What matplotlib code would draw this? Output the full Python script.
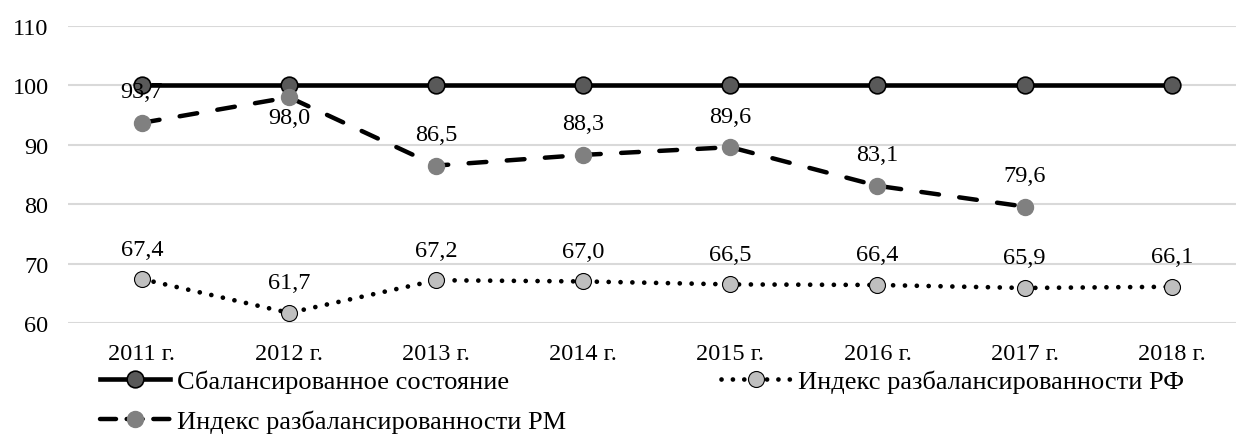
import matplotlib
matplotlib.use("Agg")
import matplotlib.pyplot as plt
from matplotlib.lines import Line2D

years = ["2011 г.", "2012 г.", "2013 г.", "2014 г.", "2015 г.", "2016 г.", "2017 г.", "2018 г."]
balanced = [100, 100, 100, 100, 100, 100, 100, 100]
rm_index = [93.7, 98.0, 86.5, 88.3, 89.6, 83.1, 79.6]
rf_index = [67.4, 61.7, 67.2, 67.0, 66.5, 66.4, 65.9, 66.1]
yticks = [60, 70, 80, 90, 100, 110]

plt.rcParams['font.family'] = ['Liberation Serif', 'DejaVu Serif']

W, H = 1236, 435
fig = plt.figure(figsize=(W / 100, H / 100), dpi=100)
left, right, top, bottom = 68, 1236, 27, 324
ax = fig.add_axes([left / W, 1 - bottom / H, (right - left) / W, (bottom - top) / H])

x_all = list(range(len(years)))
x_rm = list(range(len(rm_index)))

ax.plot(x_all, balanced, color='black', lw=3.3, marker='o', ms=12,
        mfc='#595959', mec='black', mew=1.2, zorder=3)
ax.plot(x_rm, rm_index, color='black', lw=3.2, dashes=(4.0, 4.6), dash_capstyle='round',
        marker='o', ms=11.5, mfc='#808080', mec='#808080', zorder=4)
ax.plot(x_all, rf_index, color='black', lw=3.4, dashes=(0.01, 2.5), dash_capstyle='round',
        marker='o', ms=11.5, mfc='#bfbfbf', mec='black', mew=0.8, zorder=4)

fs = 17.5
for i, v in enumerate(rm_index):
    s = f"{v:.1f}".replace('.', ',')
    dy = -20 if i == 1 else 31
    ax.annotate(s, (i, v), xytext=(0, dy), textcoords='offset pixels',
                ha='center', va='center', fontsize=fs, zorder=5)
for i, v in enumerate(rf_index):
    s = f"{v:.1f}".replace('.', ',')
    ax.annotate(s, (i, v), xytext=(0, 30), textcoords='offset pixels',
                ha='center', va='center', fontsize=fs, zorder=5)

ax.set_ylim(60, 110)
ax.set_yticks(yticks)
ax.set_xlim(-0.503, (right - 142) / 147.1)
ax.set_xticks(x_all)
ax.set_xticklabels(years)
ax.tick_params(axis='both', length=0, labelsize=fs)
ax.tick_params(axis='x', pad=14.5)
ax.tick_params(axis='y', pad=14)
ax.grid(axis='y', color='#d9d9d9', lw=1.5)
ax.set_axisbelow(True)
for sp in ax.spines.values():
    sp.set_visible(False)

h1 = Line2D([], [], color='black', lw=3.3, marker='o', ms=12, mfc='#595959', mec='black', mew=1.2)
h2 = Line2D([], [], color='black', lw=3.2, dashes=(3.6, 2.4), dash_capstyle='round',
            marker='o', ms=11.5, mfc='#808080', mec='#808080')
h3 = Line2D([], [], color='black', lw=3.4, dashes=(0.01, 2.4), dash_capstyle='round',
            marker='o', ms=11.5, mfc='#bfbfbf', mec='black', mew=0.8)
leg = fig.legend([h1, h2, h3],
                 ['Сбалансированное состояние', 'Индекс разбалансированности РМ',
                  'Индекс разбалансированности РФ'],
                 ncol=2, loc='upper left', bbox_to_anchor=(100 / W, 1 - 371 / H), frameon=False,
                 fontsize=19, handlelength=2.65, handletextpad=0.25, columnspacing=5.9,
                 labelspacing=0.62, borderaxespad=0, borderpad=0)

fig.savefig('out.png', dpi=100)
